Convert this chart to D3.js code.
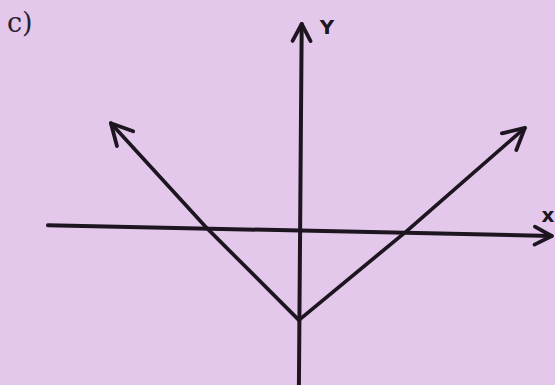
<!DOCTYPE html>
<html><head><meta charset="utf-8">
<script src="https://cdn.jsdelivr.net/npm/d3@7"></script>
<style>html,body{margin:0;padding:0;background:#e4c8eb;}svg{display:block;}</style>
</head><body><div id="chart"></div>
<script>
// Sketch of y = |x| - 2 style V graph (hand-drawn values)
const xAxisPts = [[-5.34, 0.06], [5.38, -0.17]];
const yAxisPts = [[0.0, -3.4], [0.06, 4.34]];
const vLeftArm = [[0.0, -1.96], [-2.0, 0.04], [-4.0, 2.23]];
const vRightArm = [[0.0, -1.96], [2.3, -0.06], [4.81, 2.13]];
const panelLabel = "c)";
const xLabel = "x";
const yLabel = "Y";
const xLabelPos = [5.3, 0.27];
const yLabelPos = [0.6, 4.27];

const W = 555, H = 385;
const x = d3.scaleLinear().domain([-6.36, 5.45]).range([0, W]);
const y = d3.scaleLinear().domain([-3.34, 4.85]).range([H, 0]);
const ink = "#1d1520";

const svg = d3.select("#chart").append("svg").attr("width", W).attr("height", H);
svg.append("rect").attr("width", W).attr("height", H).attr("fill", "#e4c8eb");

const defs = svg.append("defs");
function marker(id, L, Wd) {
  defs.append("marker").attr("id", id)
    .attr("markerUnits", "userSpaceOnUse")
    .attr("viewBox", `${-L-4} ${-Wd-4} ${L+8} ${2*Wd+8}`)
    .attr("refX", 0).attr("refY", 0)
    .attr("markerWidth", L + 8).attr("markerHeight", 2 * Wd + 8)
    .attr("orient", "auto")
    .append("path").attr("d", `M${-L},${-Wd} L0,0 L${-L},${Wd}`)
    .attr("fill", "none").attr("stroke", ink).attr("stroke-width", 3.8)
    .attr("stroke-linecap", "round").attr("stroke-linejoin", "round");
}
marker("axArrow", 17, 9);
marker("vArrow", 21, 11);

const line = d3.line().x(d => x(d[0])).y(d => y(d[1]));

svg.append("path").datum(xAxisPts).attr("d", line)
  .attr("fill", "none").attr("stroke", ink).attr("stroke-width", 4)
  .attr("stroke-linecap", "round").attr("marker-end", "url(#axArrow)");
svg.append("path").datum(yAxisPts).attr("d", line)
  .attr("fill", "none").attr("stroke", ink).attr("stroke-width", 4)
  .attr("stroke-linecap", "round").attr("marker-end", "url(#axArrow)");

[vLeftArm, vRightArm].forEach(arm => {
  svg.append("path").datum(arm).attr("d", line)
    .attr("fill", "none").attr("stroke", ink).attr("stroke-width", 3.7)
    .attr("stroke-linecap", "round").attr("stroke-linejoin", "round")
    .attr("marker-end", "url(#vArrow)");
});

svg.append("text").attr("x", x(yLabelPos[0])).attr("y", y(yLabelPos[1]))
  .attr("text-anchor", "middle").attr("dominant-baseline", "central")
  .attr("font-family", "DejaVu Sans, sans-serif").attr("font-size", 20)
  .attr("font-weight", "bold").attr("fill", ink).text(yLabel);
svg.append("text").attr("x", x(xLabelPos[0])).attr("y", y(xLabelPos[1]))
  .attr("text-anchor", "middle").attr("dominant-baseline", "central")
  .attr("font-family", "DejaVu Sans, sans-serif").attr("font-size", 20)
  .attr("font-weight", "bold").attr("fill", ink).text(xLabel);
svg.append("text").attr("x", 7).attr("y", 32)
  .attr("font-family", "DejaVu Serif, serif").attr("font-size", 27)
  .attr("fill", "#2a2030").text(panelLabel);
</script></body></html>
